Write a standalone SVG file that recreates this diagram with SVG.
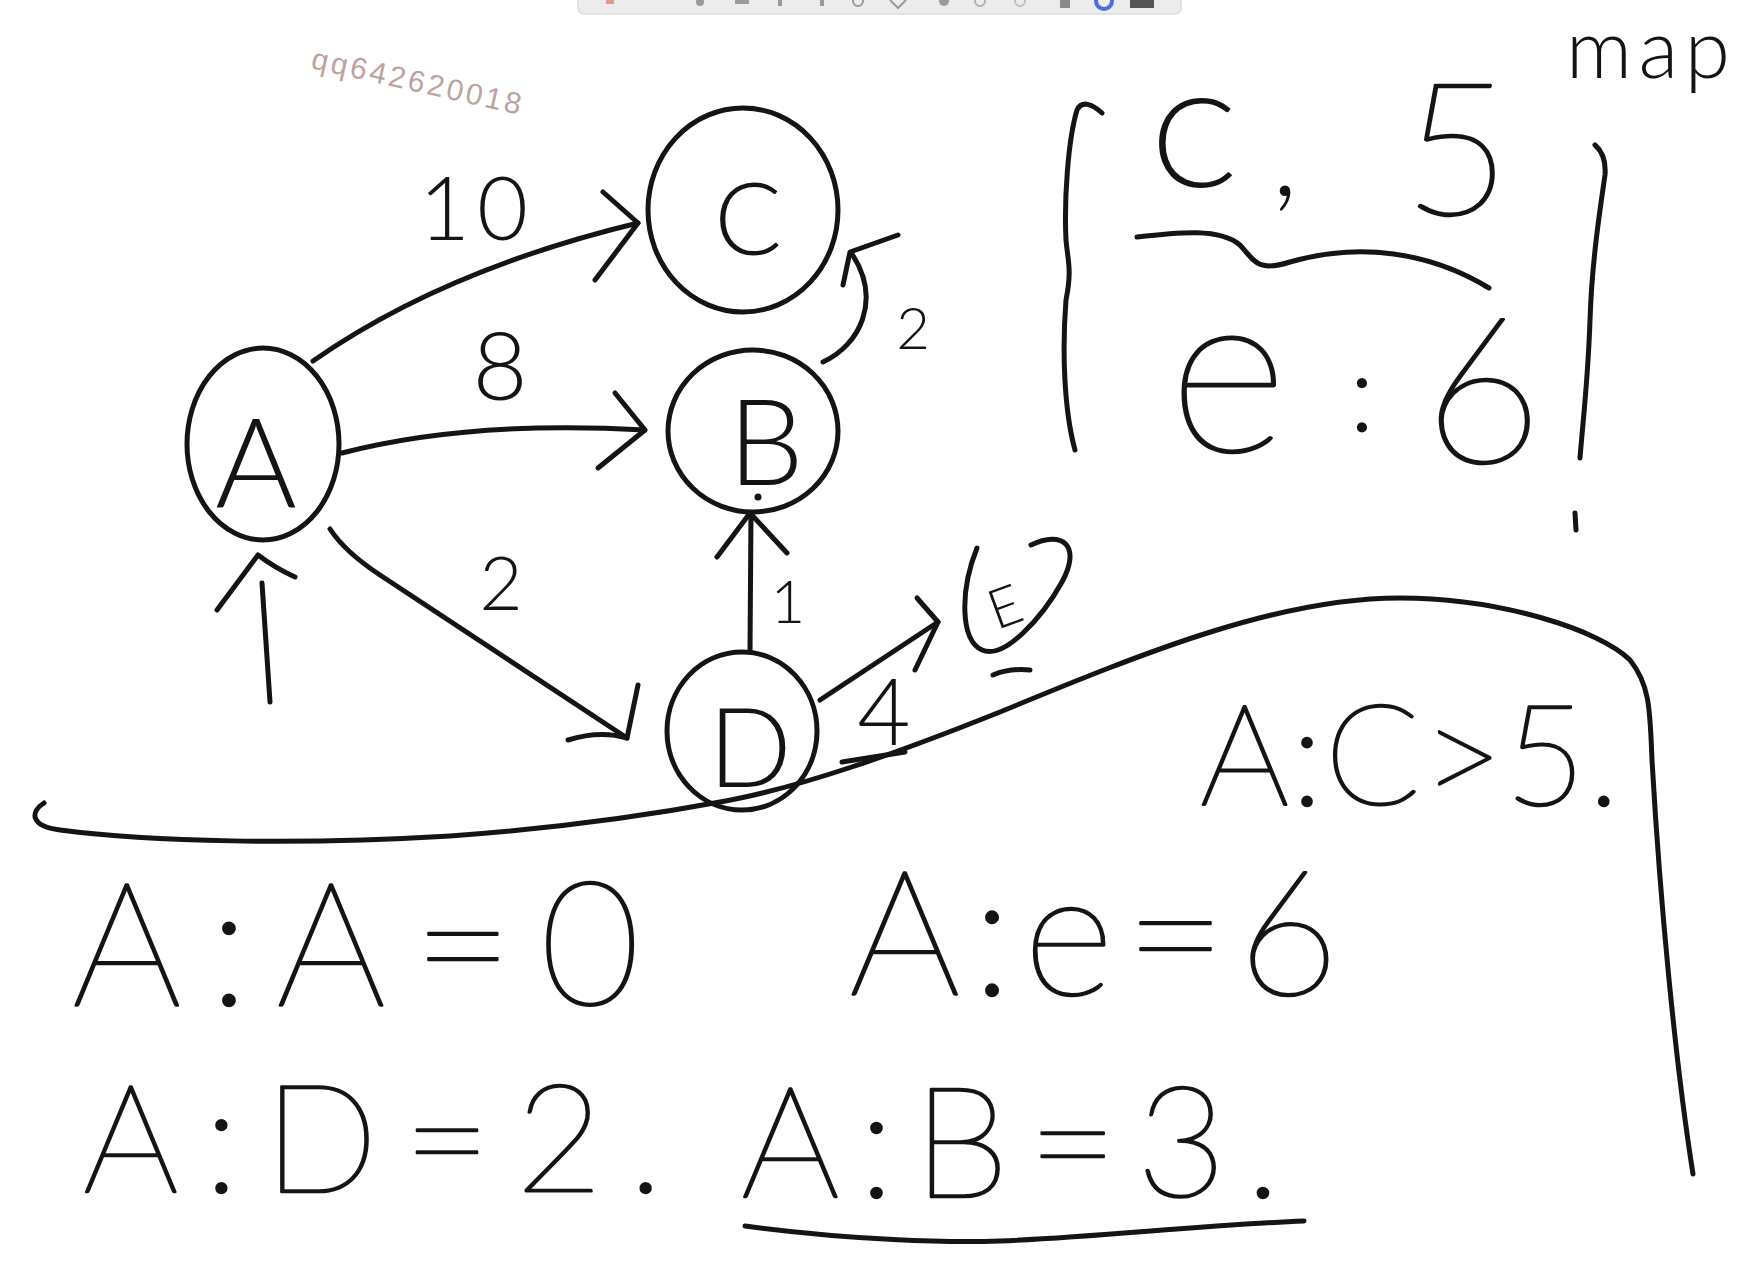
<svg xmlns="http://www.w3.org/2000/svg" width="1740" height="1266" viewBox="0 0 1740 1266">
<style>
  .ink{fill:none;stroke:#141414;stroke-width:5;stroke-linecap:round;stroke-linejoin:round}
  .hw{font-family:"Lato","Liberation Sans",sans-serif;fill:#141414;font-weight:300}
  .big{font-weight:200;stroke:#141414;stroke-width:2.6;stroke-linejoin:round}
  .wm{font-family:"Liberation Sans","DejaVu Sans",sans-serif;fill:#bca39f;font-size:30px}
</style>
<rect x="0" y="0" width="1740" height="1266" fill="#ffffff"/>

<g id="toolbar">
  <rect x="578" y="-8" width="603" height="22" rx="6" fill="#ececec" stroke="#dcdcdc" stroke-width="1.5"/>
  <g fill="#9a9a9a">
    <rect x="606" y="0" width="8" height="4" fill="#e29a8a"/>
    <circle cx="700" cy="2" r="4"/><rect x="735" y="0" width="14" height="4"/><rect x="778" y="0" width="4" height="6"/>
    <rect x="820" y="0" width="4" height="6"/><circle cx="858" cy="1" r="5" fill="none" stroke="#9a9a9a" stroke-width="2"/>
    <path d="M890,0 L898,8 L906,0" fill="none" stroke="#9a9a9a" stroke-width="2"/>
    <circle cx="944" cy="1" r="5"/><circle cx="980" cy="1" r="5" fill="none" stroke="#b0b0b0" stroke-width="2"/>
    <circle cx="1020" cy="1" r="5" fill="none" stroke="#c0c0c0" stroke-width="2"/>
    <rect x="1060" y="0" width="10" height="8" fill="#8a8a8a"/>
  </g>
  <circle cx="1104" cy="1" r="8" fill="none" stroke="#4c6fe0" stroke-width="4"/>
  <rect x="1130" y="-2" width="24" height="10" fill="#555"/>
</g>

<text class="wm" x="310" y="68" transform="rotate(12.6 310 68)" textLength="214">qq642620018</text>

<g id="connectors">
  <!-- A -> C -->
  <path class="ink" d="M313,361 Q443,270 638,223"/>
  <path class="ink" d="M603,192 L638,223 L595,280"/>
  <text class="hw" x="419" y="240" font-size="88" textLength="109">10</text>
  <!-- A -> B -->
  <path class="ink" d="M342,453 Q470,420 645,430"/>
  <path class="ink" d="M615,393 L645,430 L598,468"/>
  <text class="hw" x="500" y="400" font-size="95" text-anchor="middle">8</text>
  <!-- A -> D -->
  <path class="ink" d="M330,529 Q345,552 380,575 L627,738"/>
  <path class="ink" d="M638,685 L627,738 Q600,730 568,740"/>
  <text class="hw" x="501" y="610" font-size="75" text-anchor="middle">2</text>
  <!-- entry into A -->
  <path class="ink" d="M270,702 L262,583"/>
  <path class="ink" d="M217,610 L258,555 Q275,568 295,577"/>
  <!-- D -> B -->
  <path class="ink" d="M750,650 L751,513"/>
  <path class="ink" d="M717,557 L750,513 L787,553"/>
  <text class="hw" x="788" y="623" font-size="60" text-anchor="middle">1</text>
  <!-- B -> C -->
  <path class="ink" d="M823,362 C860,345 882,300 852,254"/>
  <path class="ink" d="M843,285 L850,252 L898,235"/>
  <text class="hw" x="913" y="349" font-size="58" text-anchor="middle">2</text>
  <!-- D -> E -->
  <path class="ink" d="M820,700 L938,622"/>
  <path class="ink" d="M917,598 L938,622 L915,670"/>
  <text class="hw" x="884" y="745" font-size="92" text-anchor="middle">4</text>
  <path class="ink" d="M842,762 L905,752" stroke-width="7"/>
</g>

<g id="node-A">
  <ellipse class="ink" cx="263" cy="444" rx="76" ry="96"/>
  <text class="hw" x="256" y="507" font-size="125" text-anchor="middle">A</text>
</g>
<g id="node-C">
  <ellipse class="ink" cx="743" cy="210" rx="95" ry="102"/>
  <text class="hw" x="748" y="255" font-size="100" text-anchor="middle">C</text>
</g>
<g id="node-B">
  <ellipse class="ink" cx="753" cy="431" rx="85" ry="81"/>
  <text class="hw" x="766" y="485" font-size="120" text-anchor="middle">B</text>
  <circle cx="758" cy="497" r="3.5" fill="#141414"/>
</g>
<g id="node-D">
  <ellipse class="ink" cx="742" cy="731" rx="75" ry="79"/>
  <text class="hw" x="750" y="787" font-size="110" text-anchor="middle">D</text>
</g>
<g id="node-E">
  <path class="ink" d="M1031,545 C1062,530 1082,545 1062,582 C1042,618 1004,660 982,650 C960,640 960,590 977,548"/>
  <text class="hw" x="1005" y="626" font-size="55" text-anchor="middle" transform="rotate(-20 1005 607)">E</text>
  <path class="ink" d="M993,675 Q1010,668 1030,670"/>
</g>

<g id="boundary">
  <path class="ink" d="M44,803 C30,812 30,826 60,830 C150,842 300,845 450,836 C560,828 650,815 720,802 C800,788 900,752 1000,712 C1150,650 1280,598 1400,598 C1500,598 1600,630 1630,660 C1650,685 1650,710 1652,760 C1660,900 1675,1060 1693,1174"/>
</g>

<g id="map">
  <path class="ink" d="M1102,113 C1092,104 1082,100 1077,110 C1068,140 1064,200 1066,240 C1068,262 1072,270 1066,300 C1062,350 1064,410 1075,450"/>
  <path class="ink" d="M1595,145 C1603,152 1606,162 1605,175 C1600,210 1592,260 1590,320 C1588,380 1583,420 1580,458"/>
  <path class="ink" d="M1575,513 L1576,530"/>
  <path class="ink" d="M1137,237 C1180,232 1220,228 1240,245 C1255,262 1258,272 1290,262 C1360,242 1430,252 1489,288"/>
  <text class="hw" x="1194" y="187" font-size="125" text-anchor="middle">C</text>
  <text class="hw" x="1285" y="196" font-size="120" text-anchor="middle">,</text>
  <text class="hw big" x="1457" y="215" font-size="185" text-anchor="middle">5</text>
  <text class="hw big" x="1228" y="452" font-size="230" text-anchor="middle">e</text>
  <text class="hw" x="1362" y="432" font-size="110" text-anchor="middle">:</text>
  <text class="hw big" x="1483" y="462" font-size="205" text-anchor="middle">6</text>
  <text class="hw" x="1566" y="78" font-size="82" textLength="164">map</text>
</g>

<g id="results">
  <text class="hw big" x="1200" y="805" font-size="140" textLength="420">A:C&gt;5.</text>
  <text class="hw big" x="72" y="1005" font-size="172" textLength="568">A:A=0</text>
  <text class="hw big" x="849" y="995" font-size="175" textLength="490">A:e=6</text>
  <text class="hw big" x="83" y="1192" font-size="150" textLength="580">A:D=2.</text>
  <text class="hw big" x="741" y="1197" font-size="155" textLength="540">A:B=3.</text>
  <path class="ink" d="M745,1226 C850,1240 950,1243 1000,1241 C1100,1237 1200,1225 1304,1221"/>
</g>
</svg>
